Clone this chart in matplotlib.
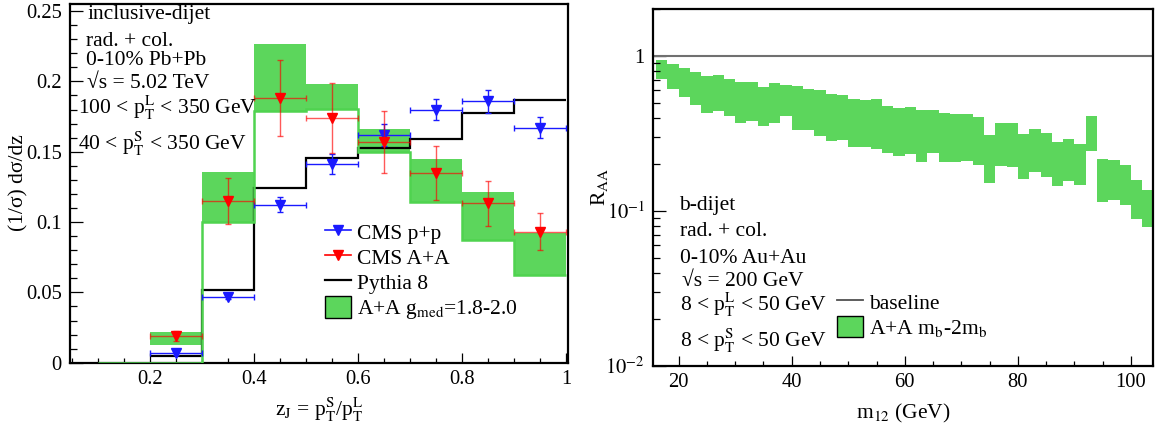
import matplotlib
matplotlib.use("Agg")
import matplotlib.pyplot as plt
from matplotlib.ticker import MultipleLocator, FixedLocator, FixedFormatter, FuncFormatter, LogLocator, NullFormatter
from matplotlib.patches import Patch
from matplotlib.lines import Line2D
import numpy as np

plt.rcParams["font.family"] = ["Liberation Serif", "DejaVu Serif"]
plt.rcParams["mathtext.fontset"] = "stix"
FS = 15.5
TFS = 14.8

# ---------------- left panel data: inclusive dijet z_J ----------------
zj_edges = [0.1, 0.2, 0.3, 0.4, 0.5, 0.6, 0.7, 0.8, 0.9, 1.0]
zj_centers = [0.25, 0.35, 0.45, 0.55, 0.65, 0.75, 0.85, 0.95]

band_hi = [0.022, 0.1353, 0.2263, 0.198, 0.1663, 0.1445, 0.1216, 0.092]
band_lo = [0.0123, 0.0998, 0.1786, 0.1807, 0.150, 0.114, 0.0873, 0.0627]
# lower edge outline (first bin 0.1-0.2 is empty)
band_line = [0.0, 0.0, 0.0998, 0.1786, 0.1807, 0.150, 0.114, 0.0873, 0.0627]

pythia = [0.0045, 0.0515, 0.124, 0.1455, 0.1524, 0.1592, 0.1775, 0.187]

pp_val = [0.0071, 0.0466, 0.1123, 0.1412, 0.1618, 0.1797, 0.1857, 0.1672]
pp_err = [0.0015, 0.0012, 0.0055, 0.007, 0.008, 0.0075, 0.008, 0.0075]

aa_val = [0.0192, 0.115, 0.188, 0.1738, 0.1566, 0.135, 0.1135, 0.0932]
aa_err = [0.0035, 0.0165, 0.027, 0.025, 0.022, 0.019, 0.016, 0.013]

# ---------------- right panel data: b-dijet R_AA vs m12 ----------------
m12_edges = list(range(16, 106, 2))
raa_hi = [0.938, 0.893, 0.842, 0.785, 0.740, 0.759, 0.705, 0.677, 0.684, 0.635,
          0.667, 0.647, 0.638, 0.616, 0.601, 0.566, 0.558, 0.526, 0.520, 0.524,
          0.476, 0.465, 0.467, 0.445, 0.451, 0.427, 0.423, 0.421, 0.406, 0.308,
          0.368, 0.367, 0.314, 0.337, 0.318, 0.278, 0.292, 0.272, 0.409, 0.217,
          0.214, 0.197, 0.159, 0.137]
raa_lo = [0.708, 0.610, 0.544, 0.483, 0.429, 0.440, 0.407, 0.372, 0.379, 0.354,
          0.370, 0.409, 0.332, 0.332, 0.305, 0.283, 0.285, 0.259, 0.257, 0.252,
          0.236, 0.226, 0.232, 0.206, 0.236, 0.206, 0.207, 0.210, 0.198, 0.152,
          0.195, 0.191, 0.160, 0.179, 0.165, 0.145, 0.157, 0.147, 0.244, 0.115,
          0.118, 0.110, 0.089, 0.0787]

GREEN = "#5cd65c"
W, H = 1156, 432

fig = plt.figure(figsize=(W / 100, H / 100), dpi=100)


def px_axes(x0, y0, x1, y1):
    return fig.add_axes([x0 / W, 1 - y1 / H, (x1 - x0) / W, (y1 - y0) / H])


def root_style(ax):
    for s in ["left", "bottom", "top", "right"]:
        ax.spines[s].set_linewidth(1.6)
    ax.tick_params(which="both", direction="in", top=False, right=False,
                   labelsize=TFS, width=0.9)
    ax.tick_params(axis="y", which="major", length=9.5, pad=6)
    ax.tick_params(axis="y", which="minor", length=5)
    ax.tick_params(axis="x", which="major", length=7.5, pad=5)
    ax.tick_params(axis="x", which="minor", length=3.5)


def ftext(x, y, s, **kw):
    fig.text(x / W, 1 - y / H, s, fontsize=FS, **kw)


# ================= left =================
ax1 = px_axes(70, 4, 568.3, 362.7)
left_edges = zj_edges[1:-1]
ax1.bar(left_edges, np.array(band_hi) - np.array(band_lo), width=0.1,
        bottom=band_lo, align="edge", color=GREEN, lw=0, zorder=1)
ax1.stairs(band_line, zj_edges, baseline=None, color="#4fd34f", lw=1.8, zorder=3)
ax1.stairs(pythia, zj_edges[1:], baseline=None, color="black", lw=1.6, zorder=2)

ax1.errorbar(zj_centers, pp_val, xerr=0.05, yerr=pp_err, fmt="v", color="#1a1aff",
             ms=6.5, lw=1.0, capsize=2, elinewidth=1.0, zorder=4)
ax1.errorbar(zj_centers, aa_val, xerr=0.05, yerr=aa_err, fmt="none", ecolor=(1, 0, 0, 0.65),
             lw=1.0, capsize=2, elinewidth=1.0, zorder=5)
ax1.plot(zj_centers, aa_val, "v", color="red", ms=6.5, zorder=6)

ax1.set_xlim(0.0454, 1.0044)
ax1.set_ylim(0, 0.255)
ax1.xaxis.set_major_locator(MultipleLocator(0.2))
ax1.xaxis.set_minor_locator(MultipleLocator(0.05))
ax1.yaxis.set_major_locator(MultipleLocator(0.05))
ax1.yaxis.set_minor_locator(MultipleLocator(0.01))
ax1.xaxis.set_major_formatter(FuncFormatter(lambda v, p: "%g" % round(v, 3)))
ax1.yaxis.set_major_formatter(FuncFormatter(lambda v, p: "%g" % round(v, 3)))
root_style(ax1)

h_pp = Line2D([], [], color="#1a1aff", marker="v", ms=6.5, lw=1.2)
h_aa = Line2D([], [], color="red", marker="v", ms=6.5, lw=1.2)
h_py = Line2D([], [], color="black", lw=1.6)
h_band = Patch(facecolor=GREEN, edgecolor="black", lw=1.0)
leg1 = ax1.legend([h_pp, h_aa, h_py, h_band],
                  ["CMS p+p", "CMS A+A", "Pythia 8", r"A+A g$_{\rm med}$=1.8-2.0"],
                  loc="upper left", bbox_to_anchor=(325 / W, 1 - 221 / H),
                  bbox_transform=fig.transFigure, frameon=False, fontsize=FS,
                  borderpad=0, borderaxespad=0, handlelength=1.2, handleheight=1.15,
                  handletextpad=0.3, labelspacing=0.1)

ftext(87, 18.5, "inclusive-dijet", va="baseline")
ftext(86, 45.5, "rad. + col.", va="baseline")
ftext(86, 65, "0-10% Pb+Pb", va="baseline")
ftext(87, 88.5, "√s = 5.02 TeV", va="baseline")
ftext(78.5, 114, r"100 < p$_{\rm T}^{\rm L}$ < 350 GeV", va="baseline")
ftext(77.5, 149.5, r"40 < p$_{\rm T}^{\rm S}$ < 350 GeV", va="baseline")

ftext(18.5, 183, "(1/σ) dσ/dz", rotation=90, ha="center", va="center")
ftext(319, 416, r"z$_{\rm J}$ = p$_{\rm T}^{\rm S}$/p$_{\rm T}^{\rm L}$", ha="center", va="baseline")

# ================= right =================
ax2 = px_axes(653.3, 9.3, 1152.7, 366)
ax2.set_yscale("log")
ax2.bar(m12_edges[:-1], np.array(raa_hi) - np.array(raa_lo), width=2, bottom=raa_lo,
        align="edge", color=GREEN, lw=0, zorder=1)
ax2.axhline(1.0, color="#707070", lw=1.5, zorder=2)

ax2.set_xlim(15.53, 103.84)
ax2.set_ylim(0.01, 2.0)
ax2.xaxis.set_major_locator(MultipleLocator(20))
ax2.xaxis.set_minor_locator(MultipleLocator(5))
ax2.yaxis.set_major_locator(FixedLocator([0.01, 0.1, 1.0]))
ax2.yaxis.set_major_formatter(FixedFormatter([r"$10^{-2}$", r"$10^{-1}$", "1"]))
ax2.yaxis.set_minor_locator(LogLocator(base=10, subs=np.arange(2, 10)))
ax2.yaxis.set_minor_formatter(NullFormatter())
root_style(ax2)

h_base = Line2D([], [], color="#505050", lw=1.3)
h_band2 = Patch(facecolor=GREEN, edgecolor="black", lw=1.0)
ax2.legend([h_base, h_band2], ["baseline", r"A+A m$_{\rm b}$-2m$_{\rm b}$"],
           loc="upper left", bbox_to_anchor=(837 / W, 1 - 291 / H),
           bbox_transform=fig.transFigure, frameon=False, fontsize=FS,
           borderpad=0, borderaxespad=0, handlelength=1.2, handleheight=1.15,
           handletextpad=0.3, labelspacing=0.1)

ftext(679.5, 210, "b-dijet", va="baseline")
ftext(679.5, 236, "rad. + col.", va="baseline")
ftext(679.5, 262.7, "0-10% Au+Au", va="baseline")
ftext(682, 286.5, "√s = 200 GeV", va="baseline")
ftext(679.5, 311, r"8 < p$_{\rm T}^{\rm L}$ < 50 GeV", va="baseline")
ftext(679.5, 347, r"8 < p$_{\rm T}^{\rm S}$ < 50 GeV", va="baseline")

ftext(600, 187, r"R$_{\rm AA}$", rotation=90, ha="center", va="center")
ftext(903, 418, r"m$_{12}$ (GeV)", ha="center", va="baseline")

fig.savefig("out.png", dpi=100)
